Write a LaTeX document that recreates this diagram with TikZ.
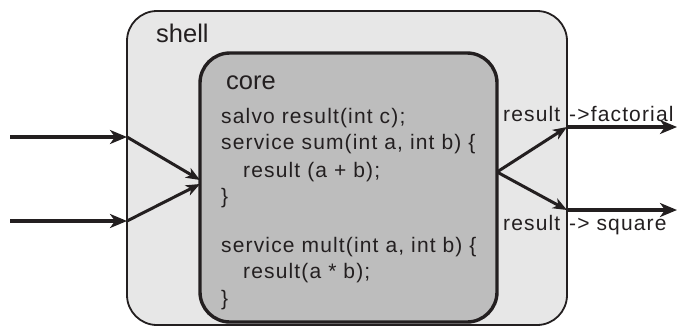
\documentclass[tikz,border=0pt]{standalone}
\usepackage{fontspec}
\setmainfont{Liberation Sans}
\newfontfamily\codefont[LetterSpace=5.5]{Liberation Sans}
\usetikzlibrary{arrows.meta}
\definecolor{ink}{HTML}{231F20}
\definecolor{shellfill}{HTML}{E7E7E7}
\definecolor{corefill}{HTML}{BDBDBD}

\begin{document}
\begin{tikzpicture}[x=1pt,y=-1pt,
  shellbox/.style={draw=ink, line width=1.8pt, fill=shellfill, rounded corners=30pt, inner sep=0pt},
  corebox/.style={draw=ink, line width=3.4pt, fill=corefill, rounded corners=30pt, inner sep=0pt},
  title/.style={anchor=base west, inner sep=0pt, text=ink, font=\fontsize{25.5}{28}\selectfont},
  code/.style={anchor=base west, inner sep=0pt, text=ink, font=\codefont\fontsize{21}{24}\selectfont},
  bigarrow/.style={draw=ink, line width=3.6pt, -{Stealth[length=17pt,width=14pt,inset=5pt]}},
  smallarrow/.style={draw=ink, line width=3pt, -{Stealth[length=14pt,width=11pt,inset=4pt]}}
]
\useasboundingbox (0,0) rectangle (677,327);

% containers
\node[shellbox, minimum width=440pt, minimum height=314pt] (shell) at (347,168) {};
\node[corebox, minimum width=297pt, minimum height=269pt] (core) at (348.5,187.5) {};

\node[title] (shelltitle) at (156,42) {shell};
\node[title] (coretitle) at (226,89) {core};

% core source
\node[code] (l1) at (221,123) {salvo result(int c);};
\node[code] (l2) at (221,149) {service sum(int a, int b) \{};
\node[code] (l3) at (243,177) {result (a + b);};
\node[code] (l4) at (221,203) {\}};
\node[code] (l5) at (221,252) {service mult(int a, int b) \{};
\node[code] (l6) at (243,278) {result(a * b);};
\node[code] (l7) at (221,305) {\}};

% connection points
\coordinate (in1) at (10,137);
\coordinate (in2) at (10,221);
\coordinate (j1) at (127,137);
\coordinate (j2) at (127,221);
\coordinate (c1) at (200,180);
\coordinate (c2) at (200,184);
\coordinate (src) at (497,172);
\coordinate (o1) at (567,127);
\coordinate (o2) at (567,210);
\coordinate (e1) at (677,127);
\coordinate (e2) at (677,210);

% inputs
\draw[bigarrow] (in1) -- (j1);
\draw[bigarrow] (in2) -- (j2);
\draw[smallarrow] (j1) -- (c1);
\draw[smallarrow] (j2) -- (c2);

% outputs
\draw[smallarrow] (src) -- (o1);
\draw[smallarrow] (src) -- (o2);
\draw[bigarrow] (o1) -- (e1);
\draw[bigarrow] (o2) -- (e2);

% output labels
\node[code] (r1) at (503,121) {result};
\node[code] (f1) at (569,121) {->factorial};
\node[code] (r2) at (503,230) {result};
\node[code] (f2) at (569,230) {-> square};
\end{tikzpicture}
\end{document}
